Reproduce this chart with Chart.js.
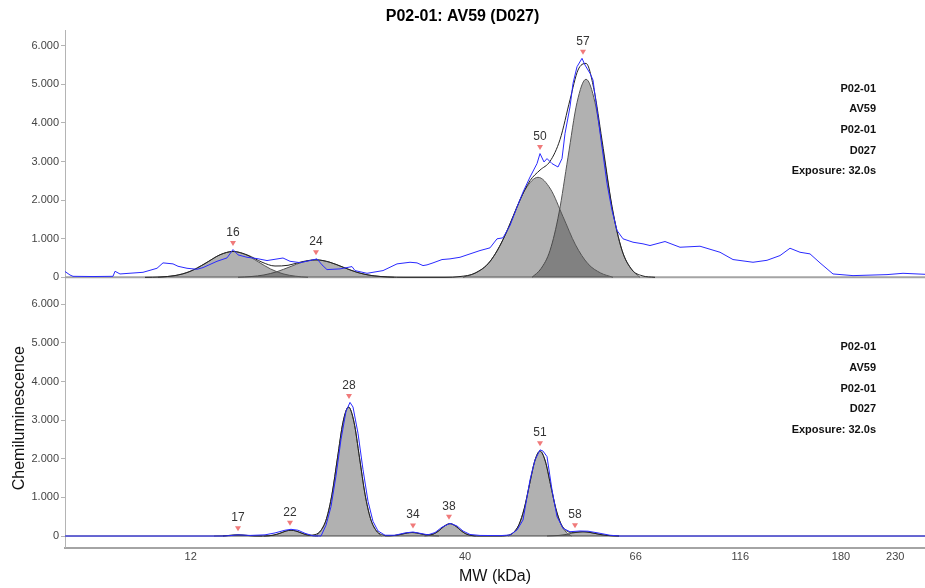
<!DOCTYPE html>
<html>
<head>
<meta charset="utf-8">
<script src="https://cdn.jsdelivr.net/npm/chart.js@4.4.1/dist/chart.umd.min.js"></script>
<style>
  html, body { margin: 0; padding: 0; background: #fff; }
  #wrap { position: relative; width: 925px; height: 588px; }
</style>
</head>
<body>
<div id="wrap"><canvas id="chart"></canvas></div>
<script>
// x values are lane positions (migration distance); tick labels are the MW ladder
const ladderLabels = ['12', '40', '66', '116', '180', '230'];
const ladderPos = [12.57, 40.0, 57.07, 67.53, 77.6, 83.03];
const yTickValues = [0, 1000, 2000, 3000, 4000, 5000, 6000];
const infoLines = ['P02-01', 'AV59', 'P02-01', 'D027', 'Exposure: 32.0s'];

// top panel: measured trace and overall fit
const topTraceX = [0.0,0.5,0.8,2.8,4.8,5.0,5.5,7.8,9.2,9.8,10.8,11.3,12.2,13.2,13.8,15.2,16.2,16.8,17.3,18.2,19.2,20.2,21.8,22.5,23.5,24.5,25.2,25.7,26.2,27.5,28.7,29.0,30.2,31.8,33.2,34.5,35.2,35.8,36.2,36.8,37.7,38.5,39.5,40.2,41.5,42.5,43.2,43.8,44.5,45.2,45.8,46.5,47.2,47.5,47.9,48.2,48.7,49.3,49.7,50.0,50.5,50.8,51.2,51.7,52.0,52.5,52.8,53.2,53.7,54.2,54.7,55.2,55.8,56.8,57.8,58.5,60.0,61.5,63.5,65.5,66.8,68.8,70.2,71.5,72.5,73.5,74.5,75.5,76.8,78.8,82.2,83.8,86.0];
const topTraceY = [150,60,26,20,26,156,87,130,234,374,348,286,234,208,252,415,503,720,581,519,485,434,500,415,380,434,478,322,200,218,278,174,104,174,348,390,374,304,322,374,460,478,519,580,693,763,997,1023,1343,1818,2207,2597,2945,3205,2987,3075,2945,2857,3075,3724,4415,5022,5454,5671,5498,5282,5108,4329,3376,2426,1732,1213,997,909,867,823,927,779,805,649,460,390,441,563,753,649,607,374,87,44,70,104,78];
const topFitX = [8.0,9.5,11.0,12.5,14.0,15.5,16.8,18.3,19.7,21.0,22.3,23.7,25.1,26.5,27.9,29.3,30.7,32.3,34.0,36.0,38.0,39.5,41.0,42.5,44.0,45.5,46.5,47.5,48.5,49.5,50.5,51.3,52.1,52.9,53.7,54.7,55.7,56.7,57.7,59.0];
const topFitY = [0,9,45,152,356,583,670,572,392,293,311,404,453,389,252,122,44,10,0,0,0,20,108,410,1084,2005,2503,2777,3002,3567,4598,5368,5540,4859,3554,1840,703,195,41,0];

// top panel: fitted peaks
const p16X = [9.3,10.55,11.8,13.05,14.3,15.55,16.8,18.05,19.3,20.55,21.8,23.05,24.3];
const p16Y = [0,29,90,217,405,589,667,589,405,217,90,29,0];
const p24X = [17.3,18.6,19.9,21.2,22.5,23.8,25.1,26.4,27.7,29.0,30.3,31.6,32.9];
const p24Y = [0,20,61,146,273,397,450,397,273,146,61,20,0];
const p50X = [39.8,41.05,42.3,43.55,44.8,46.05,47.3,48.55,49.8,51.05,52.3,53.55,54.8];
const p50Y = [0,114,350,841,1571,2286,2590,2286,1571,841,350,114,0];
const p57X = [46.7,47.6,48.5,49.4,50.3,51.2,52.1,53.0,53.9,54.8,55.7,56.6,57.5];
const p57Y = [0,225,694,1666,3111,4527,5130,4527,3111,1666,694,225,0];

const topPeakNames = ['16', '24', '50', '57'];
const topPeakX = [16.8, 25.1, 47.5, 51.8];
const topPeakTop = [720, 478, 3205, 5671];

// bottom panel: measured trace and overall fit
const botTraceX = [0.0,15.8,16.5,17.3,18.5,20.0,21.0,22.0,22.6,23.3,24.0,24.8,25.6,26.1,26.6,27.1,27.6,28.1,28.5,28.8,29.3,29.8,30.3,30.8,31.3,32.0,33.0,34.0,34.8,35.5,36.3,37.0,37.7,38.5,39.2,39.8,40.5,41.5,43.5,44.5,45.2,45.8,46.5,47.0,47.5,47.8,48.2,48.7,49.2,49.8,50.5,51.5,52.3,53.3,54.5,55.5,86.0];
const botTraceY = [0,0,10,30,15,30,80,150,174,150,70,5,0,280,760,1560,2500,3230,3460,3340,2660,1720,900,380,130,20,20,80,104,70,30,90,230,329,260,130,40,15,10,26,156,415,1453,1971,2231,2200,2057,1193,501,200,112,130,125,80,20,0,0];
const botFitX = [15.8,16.5,17.3,18.1,19.0,20.0,20.8,21.5,22.1,22.6,23.1,23.7,24.4,25.0,25.6,26.15,26.7,27.25,27.8,28.35,28.9,29.45,30.0,30.55,31.1,31.65,32.5,33.35,33.8,34.25,34.7,35.15,35.6,36.05,36.5,36.95,37.4,37.9,38.5,39.1,39.6,40.05,40.6,41.3,43.5,44.35,44.875,45.4,45.925,46.45,46.975,47.5,48.025,48.55,49.075,49.6,50.125,50.65,51.2,51.8,52.4,53.0,53.6,54.2,54.8,55.4];
const botFitY = [0,17,28,17,3,2,20,71,129,150,129,71,20,36,147,452,1084,2026,2948,3340,2948,2026,1084,452,147,37,8,29,55,79,90,79,56,34,32,65,139,250,320,250,139,61,15,0,0,24,97,298,714,1334,1942,2200,1942,1337,722,318,139,94,100,110,97,67,36,15,5,0];

// bottom panel: fitted peaks
const p17X = [14.9,15.7,16.5,17.3,18.1,18.9,19.7];
const p17Y = [0,4,17,28,17,4,0];
const p22X = [19.9,20.35,20.8,21.25,21.7,22.15,22.6,23.05,23.5,23.95,24.4,24.85,25.3];
const p22Y = [0,7,20,49,91,132,150,132,91,49,20,7,0];
const p28X = [25.05,25.6,26.15,26.7,27.25,27.8,28.35,28.9,29.45,30.0,30.55,31.1,31.65];
const p28Y = [0,147,452,1084,2026,2948,3340,2948,2026,1084,452,147,0];
const p34X = [32.0,32.45,32.9,33.35,33.8,34.25,34.7,35.15,35.6,36.05,36.5,36.95,37.4];
const p34Y = [0,4,12,29,55,79,90,79,55,29,12,4,0];
const p38X = [35.95,36.375,36.8,37.225,37.65,38.075,38.5,38.925,39.35,39.775,40.2,40.625,41.05];
const p38Y = [0,14,43,104,194,282,320,282,194,104,43,14,0];
const p51X = [44.35,44.875,45.4,45.925,46.45,46.975,47.5,48.025,48.55,49.075,49.6,50.125,50.65];
const p51Y = [0,97,298,714,1334,1942,2200,1942,1334,714,298,97,0];
const p58X = [48.2,48.8,49.4,50.0,50.6,51.2,51.8,52.4,53.0,53.6,54.2,54.8,55.4];
const p58Y = [0,5,15,36,67,97,110,97,67,36,15,5,0];

const botPeakNames = ['17', '22', '28', '34', '38', '51', '58'];
const botPeakX = [17.3, 22.5, 28.4, 34.8, 38.4, 47.5, 51.0];
const botPeakTop = [30, 174, 3460, 104, 329, 2231, 112];

const fontFamily = '"Liberation Sans", Arial, sans-serif';
Chart.defaults.font.family = fontFamily;

function pts(xs, ys) {
    return xs.map((x, i) => ({ x: x, y: ys[i] }));
}

function fmt(v) {
    return String(v).replace(/\B(?=(\d{3})+(?!\d))/g, '.');
}

function traceSet(xs, ys, axis) {
    return { data: pts(xs, ys), yAxisID: axis, borderColor: '#2a2aff', borderWidth: 1, pointRadius: 0, tension: 0, fill: false };
}

function fitSet(xs, ys, axis) {
    return { data: pts(xs, ys), yAxisID: axis, borderColor: '#222', borderWidth: 1, pointRadius: 0, cubicInterpolationMode: 'monotone', fill: false };
}

function peakSet(xs, ys, axis) {
    return {
        data: pts(xs, ys), yAxisID: axis,
        borderColor: '#555', borderWidth: 1, pointRadius: 0,
        cubicInterpolationMode: 'monotone',
        fill: 'origin', backgroundColor: 'rgba(54, 54, 54, 0.39)'
    };
}

function baseSet(axis) {
    return { data: [{ x: 0, y: 0 }, { x: 86, y: 0 }], yAxisID: axis, borderColor: '#a4a4a4', borderWidth: 2, pointRadius: 0, fill: false };
}

function yAxis(showTitle) {
    return {
        type: 'linear',
        position: 'left',
        stack: 'panels',
        stackWeight: 1,
        min: -300,
        max: 6400,
        afterBuildTicks: s => { s.ticks = yTickValues.map(v => ({ value: v })); },
        afterFit: s => { s.width = 65; },
        ticks: { color: '#444', font: { size: 11 }, padding: 2, callback: v => fmt(v) },
        grid: { drawOnChartArea: false, drawTicks: true, tickLength: 4, color: '#b4b4b4' },
        border: { display: true, color: '#b4b4b4' },
        title: { display: showTitle, text: 'Chemiluminescence', color: '#111', font: { size: 16 }, padding: { top: 9.5, bottom: 0 } }
    };
}

const peakMarks = {
    id: 'peakMarks',
    afterDatasetsDraw(chart) {
        const { ctx, scales, chartArea } = chart;
        const panels = [
            { y: scales.yTop, xs: topPeakX, tops: topPeakTop, names: topPeakNames },
            { y: scales.yBot, xs: botPeakX, tops: botPeakTop, names: botPeakNames }
        ];
        ctx.save();
        panels.forEach(p => {
            p.xs.forEach((v, i) => {
                const px = scales.x.getPixelForValue(v);
                const py = p.y.getPixelForValue(p.tops[i]) - 6;
                ctx.fillStyle = '#f07a7a';
                ctx.beginPath();
                ctx.moveTo(px - 3, py - 2.5);
                ctx.lineTo(px + 3, py - 2.5);
                ctx.lineTo(px, py + 2.5);
                ctx.closePath();
                ctx.fill();
                ctx.fillStyle = '#333';
                ctx.font = '12px ' + fontFamily;
                ctx.textAlign = 'center';
                ctx.textBaseline = 'middle';
                ctx.fillText(p.names[i], px, py - 11);
            });
            ctx.fillStyle = '#111';
            ctx.font = 'bold 11px ' + fontFamily;
            ctx.textAlign = 'right';
            ctx.textBaseline = 'middle';
            infoLines.forEach((t, i) => {
                ctx.fillText(t, chartArea.right - 49, p.y.top + 58.5 + i * 20.6);
            });
        });
        ctx.restore();
    }
};

new Chart(document.getElementById('chart'), {
    type: 'line',
    data: {
        datasets: [
            traceSet(topTraceX, topTraceY, 'yTop'),
            traceSet(botTraceX, botTraceY, 'yBot'),
            fitSet(topFitX, topFitY, 'yTop'),
            fitSet(botFitX, botFitY, 'yBot'),
            peakSet(p16X, p16Y, 'yTop'),
            peakSet(p24X, p24Y, 'yTop'),
            peakSet(p50X, p50Y, 'yTop'),
            peakSet(p57X, p57Y, 'yTop'),
            peakSet(p17X, p17Y, 'yBot'),
            peakSet(p22X, p22Y, 'yBot'),
            peakSet(p28X, p28Y, 'yBot'),
            peakSet(p34X, p34Y, 'yBot'),
            peakSet(p38X, p38Y, 'yBot'),
            peakSet(p51X, p51Y, 'yBot'),
            peakSet(p58X, p58Y, 'yBot'),
            baseSet('yTop'),
            baseSet('yBot')
        ]
    },
    options: {
        responsive: true,
        maintainAspectRatio: false,
        animation: false,
        events: [],
        layout: { padding: 0 },
        plugins: {
            legend: { display: false },
            tooltip: { enabled: false },
            title: {
                display: true,
                text: 'P02-01: AV59 (D027)',
                color: '#000',
                font: { size: 16, weight: 'bold' },
                padding: { top: 7, bottom: 4 }
            }
        },
        scales: {
            x: {
                type: 'linear',
                min: 0,
                max: 86,
                afterBuildTicks: s => { s.ticks = ladderPos.map(v => ({ value: v })); },
                afterFit: s => { s.height = 40.4; },
                ticks: { color: '#444', font: { size: 11 }, padding: 3, autoSkip: false, maxRotation: 0, callback: (v, i) => ladderLabels[i] },
                grid: { drawOnChartArea: false, drawTicks: false },
                border: { display: true, color: '#a4a4a4', width: 2 },
                title: { display: true, text: 'MW (kDa)', color: '#111', font: { size: 16 }, padding: { top: 0, bottom: 1.4 } }
            },
            yBot: yAxis(true),
            yTop: yAxis(false)
        }
    },
    plugins: [peakMarks]
});
</script>
</body>
</html>
